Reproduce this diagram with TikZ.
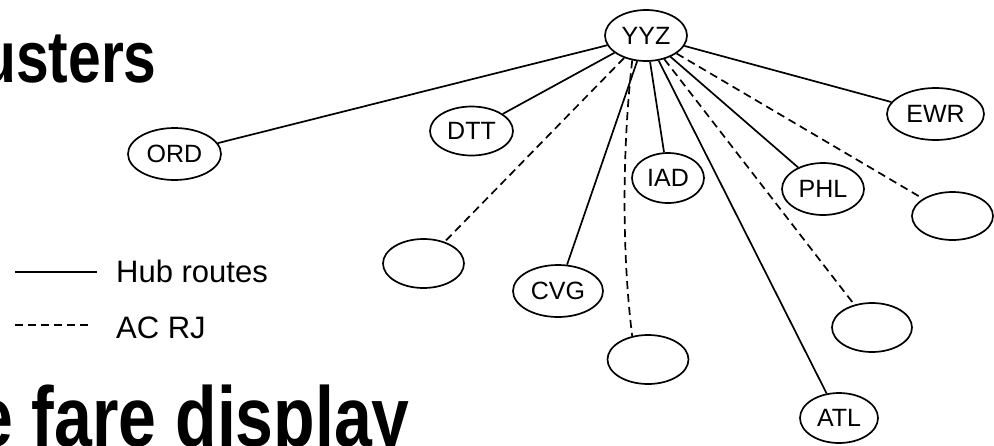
\documentclass[tikz,border=0pt]{standalone}
\usepackage{graphicx}
\usepackage{fontspec}
\setmainfont{Liberation Sans}
\usetikzlibrary{shapes.geometric}
\begin{document}
\begin{tikzpicture}[x=1pt,y=-1pt,
  apt/.style={ellipse,draw,line width=1.7pt,inner sep=0pt,font=\fontsize{25}{30}\selectfont},
  hub/.style={line width=1.7pt},
  rj/.style={line width=1.7pt,dash pattern=on 8pt off 5pt},
  legtext/.style={anchor=base west,inner sep=0pt,font=\fontsize{31}{36}\selectfont},
  title/.style={anchor=base west,inner sep=0pt}]
\useasboundingbox (0,0) rectangle (994,445);
\clip (0,0) rectangle (994,445);

% titles (cut by the frame, as in the reference)
\node[title] (t1) at (-20,82) {\scalebox{0.805}[1]{\fontsize{73}{80}\selectfont\bfseries usters}};
\node[title] (t2) at (-25,446) {\scalebox{0.8}[1]{\fontsize{85}{90}\selectfont\bfseries e fare display}};

% airports
\node[apt,minimum width=82pt,minimum height=51pt] (yyz) at (646,35.5) {YYZ};
\node[apt,minimum width=83pt,minimum height=49pt] (dtt) at (471.5,131) {DTT};
\node[apt,minimum width=93pt,minimum height=52pt] (ord) at (174.5,154) {ORD};
\node[apt,minimum width=81pt,minimum height=49pt] (e1) at (423.5,263.5) {};
\node[apt,minimum width=90pt,minimum height=52pt] (cvg) at (558,291) {CVG};
\node[apt,minimum width=81pt,minimum height=49pt] (e2) at (648,359.5) {};
\node[apt,minimum width=72pt,minimum height=50pt] (iad) at (668,178) {IAD};
\node[apt,minimum width=97pt,minimum height=52pt] (ewr) at (935.5,114) {EWR};
\node[apt,minimum width=82pt,minimum height=52pt] (phl) at (823,189) {PHL};
\node[apt,minimum width=81pt,minimum height=48pt] (e3) at (952.5,216) {};
\node[apt,minimum width=80pt,minimum height=49pt] (e4) at (872,327.5) {};
\node[apt,minimum width=78pt,minimum height=50pt] (atl) at (839,418) {ATL};

% routes
\draw[hub] (yyz) -- (ord);
\draw[hub] (yyz) -- (dtt);
\draw[rj]  (yyz) -- (e1);
\draw[hub] (yyz) -- (cvg);
\draw[rj]  (yyz.241) .. controls (622,150) and (622,255) .. (e2.124);
\draw[hub] (yyz) -- (iad);
\draw[hub] (yyz) -- (atl);
\draw[rj]  (yyz) -- (e4);
\draw[hub] (yyz) -- (phl);
\draw[rj]  (yyz) -- (e3);
\draw[hub] (yyz) -- (ewr);

% legend
\coordinate (h1) at (15,272);
\coordinate (h2) at (97,272);
\coordinate (r1) at (15,325);
\coordinate (r2) at (92,325);
\draw[hub] (h1) -- (h2);
\draw[rj]  (r1) -- (r2);
\node[legtext] (lh) at (116,282) {Hub routes};
\node[legtext] (lr) at (116,338) {AC RJ};
\end{tikzpicture}
\end{document}
